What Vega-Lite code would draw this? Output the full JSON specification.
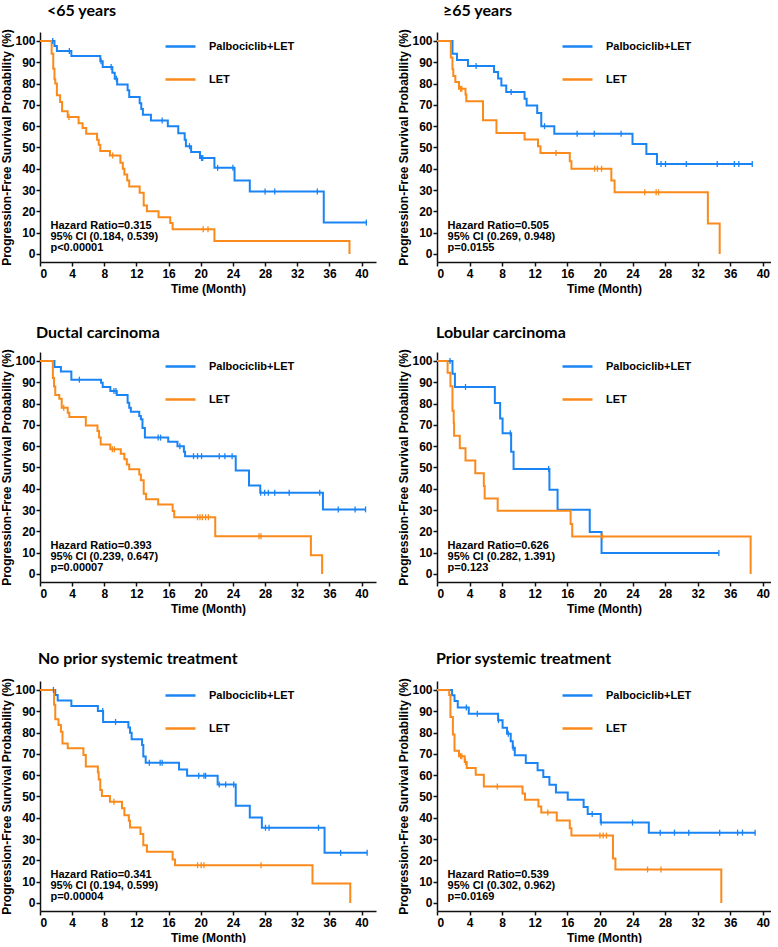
{
"$schema":"https://vega.github.io/schema/vega-lite/v6.json",
"padding":{"left":0,"top":2,"right":0,"bottom":0},
"background":"white",
"config":{
 "view":{"stroke":null},
 "font":"Liberation Sans",
 "axis":{"domainColor":"#111","domainWidth":1.5,"tickColor":"#111","tickWidth":1.5,"tickSize":4,"labelFont":"Liberation Sans","labelFontSize":12,"labelFontWeight":"bold","labelColor":"black","labelPadding":2,"labelOverlap":false,"titleFont":"Liberation Sans","titleFontSize":12,"titleFontWeight":"bold","titleColor":"black","grid":false},
 "axisY":{"titlePadding":1,"labelPadding":1},
 "axisX":{"titlePadding":4},
 "title":{"anchor":"start","frame":"group","font":"Lato","fontSize":16,"fontWeight":"bold","color":"black"}
},
"datasets":{
"km":[
{"p":"a","g":"Palbociclib+LET","t":0,"s":100},{"p":"a","g":"Palbociclib+LET","t":1.8,"s":97.6},{"p":"a","g":"Palbociclib+LET","t":2.1,"s":95.3},{"p":"a","g":"Palbociclib+LET","t":3.9,"s":92.9},{"p":"a","g":"Palbociclib+LET","t":7.5,"s":90.5},{"p":"a","g":"Palbociclib+LET","t":7.8,"s":87.8},{"p":"a","g":"Palbociclib+LET","t":9.0,"s":85.1},{"p":"a","g":"Palbociclib+LET","t":9.3,"s":82.3},{"p":"a","g":"Palbociclib+LET","t":9.6,"s":79.6},{"p":"a","g":"Palbociclib+LET","t":10.9,"s":76.8},{"p":"a","g":"Palbociclib+LET","t":11.1,"s":73.7},{"p":"a","g":"Palbociclib+LET","t":12.4,"s":70.8},{"p":"a","g":"Palbociclib+LET","t":12.6,"s":68},{"p":"a","g":"Palbociclib+LET","t":12.8,"s":65.4},{"p":"a","g":"Palbociclib+LET","t":13.8,"s":62.7},{"p":"a","g":"Palbociclib+LET","t":15.9,"s":59.9},{"p":"a","g":"Palbociclib+LET","t":17.2,"s":56.7},{"p":"a","g":"Palbociclib+LET","t":18.0,"s":53.6},{"p":"a","g":"Palbociclib+LET","t":18.15,"s":50.6},{"p":"a","g":"Palbociclib+LET","t":18.8,"s":47.8},{"p":"a","g":"Palbociclib+LET","t":19.9,"s":45},{"p":"a","g":"Palbociclib+LET","t":21.7,"s":40.4},{"p":"a","g":"Palbociclib+LET","t":24.2,"s":34.5},{"p":"a","g":"Palbociclib+LET","t":26.1,"s":29.3},{"p":"a","g":"Palbociclib+LET","t":35.3,"s":14.7},{"p":"a","g":"Palbociclib+LET","t":40.6,"s":14.7},
{"p":"a","g":"LET","t":0,"s":100},{"p":"a","g":"LET","t":1.45,"s":94},{"p":"a","g":"LET","t":1.65,"s":87},{"p":"a","g":"LET","t":1.8,"s":82},{"p":"a","g":"LET","t":1.9,"s":80},{"p":"a","g":"LET","t":2.1,"s":74.5},{"p":"a","g":"LET","t":2.5,"s":71.3},{"p":"a","g":"LET","t":2.75,"s":67},{"p":"a","g":"LET","t":3.45,"s":64.3},{"p":"a","g":"LET","t":4.8,"s":61.4},{"p":"a","g":"LET","t":5.3,"s":59.1},{"p":"a","g":"LET","t":5.75,"s":56.4},{"p":"a","g":"LET","t":7.1,"s":53.6},{"p":"a","g":"LET","t":7.3,"s":51.3},{"p":"a","g":"LET","t":7.5,"s":48.3},{"p":"a","g":"LET","t":8.7,"s":46.2},{"p":"a","g":"LET","t":10.0,"s":42.8},{"p":"a","g":"LET","t":10.3,"s":40},{"p":"a","g":"LET","t":10.5,"s":37.3},{"p":"a","g":"LET","t":10.85,"s":34.5},{"p":"a","g":"LET","t":11.1,"s":31.7},{"p":"a","g":"LET","t":12.4,"s":28.7},{"p":"a","g":"LET","t":12.9,"s":22.7},{"p":"a","g":"LET","t":13.3,"s":20},{"p":"a","g":"LET","t":14.75,"s":17.2},{"p":"a","g":"LET","t":16.2,"s":14.5},{"p":"a","g":"LET","t":16.5,"s":11.6},{"p":"a","g":"LET","t":21.7,"s":6.1},{"p":"a","g":"LET","t":38.5,"s":0},
{"p":"b","g":"Palbociclib+LET","t":0,"s":100},{"p":"b","g":"Palbociclib+LET","t":1.9,"s":94},{"p":"b","g":"Palbociclib+LET","t":2.45,"s":91},{"p":"b","g":"Palbociclib+LET","t":3.8,"s":88.2},{"p":"b","g":"Palbociclib+LET","t":7.0,"s":85.4},{"p":"b","g":"Palbociclib+LET","t":7.5,"s":82.4},{"p":"b","g":"Palbociclib+LET","t":7.9,"s":79.1},{"p":"b","g":"Palbociclib+LET","t":8.5,"s":76},{"p":"b","g":"Palbociclib+LET","t":10.75,"s":72.8},{"p":"b","g":"Palbociclib+LET","t":11.0,"s":69.7},{"p":"b","g":"Palbociclib+LET","t":12.3,"s":66.2},{"p":"b","g":"Palbociclib+LET","t":12.8,"s":60},{"p":"b","g":"Palbociclib+LET","t":14.4,"s":56.4},{"p":"b","g":"Palbociclib+LET","t":24.0,"s":51.6},{"p":"b","g":"Palbociclib+LET","t":25.7,"s":46.9},{"p":"b","g":"Palbociclib+LET","t":27.0,"s":42.2},{"p":"b","g":"Palbociclib+LET","t":38.7,"s":42.2},
{"p":"b","g":"LET","t":0,"s":100},{"p":"b","g":"LET","t":1.7,"s":92.2},{"p":"b","g":"LET","t":1.9,"s":86.7},{"p":"b","g":"LET","t":2.0,"s":83.5},{"p":"b","g":"LET","t":2.25,"s":80.7},{"p":"b","g":"LET","t":2.7,"s":77.5},{"p":"b","g":"LET","t":3.5,"s":74.9},{"p":"b","g":"LET","t":3.6,"s":71.7},{"p":"b","g":"LET","t":5.65,"s":62.8},{"p":"b","g":"LET","t":7.3,"s":56.8},{"p":"b","g":"LET","t":10.75,"s":53.7},{"p":"b","g":"LET","t":12.4,"s":50.5},{"p":"b","g":"LET","t":12.7,"s":47.4},{"p":"b","g":"LET","t":16.3,"s":43.5},{"p":"b","g":"LET","t":16.5,"s":40},{"p":"b","g":"LET","t":21.4,"s":34.5},{"p":"b","g":"LET","t":21.8,"s":28.9},{"p":"b","g":"LET","t":33.25,"s":14.3},{"p":"b","g":"LET","t":34.7,"s":0},
{"p":"c","g":"Palbociclib+LET","t":0,"s":100},{"p":"c","g":"Palbociclib+LET","t":1.8,"s":97.2},{"p":"c","g":"Palbociclib+LET","t":2.6,"s":95},{"p":"c","g":"Palbociclib+LET","t":3.9,"s":91.2},{"p":"c","g":"Palbociclib+LET","t":7.6,"s":89.8},{"p":"c","g":"Palbociclib+LET","t":7.8,"s":87.8},{"p":"c","g":"Palbociclib+LET","t":8.75,"s":85.9},{"p":"c","g":"Palbociclib+LET","t":9.55,"s":84},{"p":"c","g":"Palbociclib+LET","t":10.9,"s":80.4},{"p":"c","g":"Palbociclib+LET","t":11.1,"s":78},{"p":"c","g":"Palbociclib+LET","t":11.3,"s":76.2},{"p":"c","g":"Palbociclib+LET","t":12.35,"s":74.1},{"p":"c","g":"Palbociclib+LET","t":12.55,"s":72.6},{"p":"c","g":"Palbociclib+LET","t":12.75,"s":68.5},{"p":"c","g":"Palbociclib+LET","t":13.05,"s":64},{"p":"c","g":"Palbociclib+LET","t":15.95,"s":62},{"p":"c","g":"Palbociclib+LET","t":17.1,"s":59.9},{"p":"c","g":"Palbociclib+LET","t":17.9,"s":57.4},{"p":"c","g":"Palbociclib+LET","t":18.05,"s":55.3},{"p":"c","g":"Palbociclib+LET","t":24.35,"s":48.6},{"p":"c","g":"Palbociclib+LET","t":26.0,"s":41.5},{"p":"c","g":"Palbociclib+LET","t":27.4,"s":38.1},{"p":"c","g":"Palbociclib+LET","t":35.2,"s":30.3},{"p":"c","g":"Palbociclib+LET","t":40.5,"s":30.3},
{"p":"c","g":"LET","t":0,"s":100},{"p":"c","g":"LET","t":1.6,"s":92},{"p":"c","g":"LET","t":1.75,"s":88},{"p":"c","g":"LET","t":1.9,"s":84},{"p":"c","g":"LET","t":2.4,"s":82.3},{"p":"c","g":"LET","t":2.7,"s":78},{"p":"c","g":"LET","t":3.45,"s":75.7},{"p":"c","g":"LET","t":3.65,"s":73.7},{"p":"c","g":"LET","t":5.7,"s":69.7},{"p":"c","g":"LET","t":7.15,"s":67.1},{"p":"c","g":"LET","t":7.35,"s":64},{"p":"c","g":"LET","t":7.55,"s":60.8},{"p":"c","g":"LET","t":8.75,"s":58.5},{"p":"c","g":"LET","t":10.05,"s":56.4},{"p":"c","g":"LET","t":10.5,"s":53.8},{"p":"c","g":"LET","t":10.8,"s":51.4},{"p":"c","g":"LET","t":11.1,"s":49.1},{"p":"c","g":"LET","t":12.35,"s":46.7},{"p":"c","g":"LET","t":12.55,"s":44},{"p":"c","g":"LET","t":12.9,"s":37.6},{"p":"c","g":"LET","t":13.2,"s":35},{"p":"c","g":"LET","t":14.7,"s":32.6},{"p":"c","g":"LET","t":16.5,"s":29.5},{"p":"c","g":"LET","t":16.7,"s":26.6},{"p":"c","g":"LET","t":21.8,"s":17.7},{"p":"c","g":"LET","t":33.7,"s":8.8},{"p":"c","g":"LET","t":35.1,"s":0},
{"p":"d","g":"Palbociclib+LET","t":0,"s":100},{"p":"d","g":"Palbociclib+LET","t":1.9,"s":94},{"p":"d","g":"Palbociclib+LET","t":2.2,"s":87.8},{"p":"d","g":"Palbociclib+LET","t":7.1,"s":80.3},{"p":"d","g":"Palbociclib+LET","t":7.75,"s":73},{"p":"d","g":"Palbociclib+LET","t":8.05,"s":66},{"p":"d","g":"Palbociclib+LET","t":9.1,"s":57.4},{"p":"d","g":"Palbociclib+LET","t":9.4,"s":49.3},{"p":"d","g":"Palbociclib+LET","t":13.8,"s":39.5},{"p":"d","g":"Palbociclib+LET","t":14.8,"s":30.1},{"p":"d","g":"Palbociclib+LET","t":18.75,"s":19.7},{"p":"d","g":"Palbociclib+LET","t":20.2,"s":9.8},{"p":"d","g":"Palbociclib+LET","t":34.6,"s":9.8},
{"p":"d","g":"LET","t":0,"s":100},{"p":"d","g":"LET","t":1.3,"s":94.4},{"p":"d","g":"LET","t":1.65,"s":88.1},{"p":"d","g":"LET","t":1.9,"s":76.6},{"p":"d","g":"LET","t":2.05,"s":71},{"p":"d","g":"LET","t":2.1,"s":64.9},{"p":"d","g":"LET","t":2.8,"s":59},{"p":"d","g":"LET","t":3.5,"s":53.2},{"p":"d","g":"LET","t":4.7,"s":47.3},{"p":"d","g":"LET","t":5.75,"s":41.3},{"p":"d","g":"LET","t":5.85,"s":35.4},{"p":"d","g":"LET","t":7.45,"s":29.6},{"p":"d","g":"LET","t":16.4,"s":23.4},{"p":"d","g":"LET","t":16.6,"s":17.6},{"p":"d","g":"LET","t":38.5,"s":0},
{"p":"e","g":"Palbociclib+LET","t":0,"s":100},{"p":"e","g":"Palbociclib+LET","t":1.9,"s":97.6},{"p":"e","g":"Palbociclib+LET","t":2.2,"s":95},{"p":"e","g":"Palbociclib+LET","t":3.9,"s":92.5},{"p":"e","g":"Palbociclib+LET","t":7.2,"s":90.1},{"p":"e","g":"Palbociclib+LET","t":7.85,"s":85},{"p":"e","g":"Palbociclib+LET","t":11.0,"s":82.4},{"p":"e","g":"Palbociclib+LET","t":11.2,"s":79.9},{"p":"e","g":"Palbociclib+LET","t":11.4,"s":76.8},{"p":"e","g":"Palbociclib+LET","t":12.7,"s":74.1},{"p":"e","g":"Palbociclib+LET","t":12.85,"s":68.7},{"p":"e","g":"Palbociclib+LET","t":13.15,"s":65.8},{"p":"e","g":"Palbociclib+LET","t":17.3,"s":62.7},{"p":"e","g":"Palbociclib+LET","t":18.3,"s":59.7},{"p":"e","g":"Palbociclib+LET","t":22.1,"s":55.6},{"p":"e","g":"Palbociclib+LET","t":24.35,"s":45.6},{"p":"e","g":"Palbociclib+LET","t":26.1,"s":40.1},{"p":"e","g":"Palbociclib+LET","t":27.6,"s":35.3},{"p":"e","g":"Palbociclib+LET","t":35.4,"s":23.5},{"p":"e","g":"Palbociclib+LET","t":40.7,"s":23.5},
{"p":"e","g":"LET","t":0,"s":100},{"p":"e","g":"LET","t":1.75,"s":93},{"p":"e","g":"LET","t":1.9,"s":86.2},{"p":"e","g":"LET","t":2.3,"s":83.5},{"p":"e","g":"LET","t":2.6,"s":80.4},{"p":"e","g":"LET","t":2.8,"s":74.9},{"p":"e","g":"LET","t":3.45,"s":72.6},{"p":"e","g":"LET","t":5.4,"s":69.4},{"p":"e","g":"LET","t":5.7,"s":64},{"p":"e","g":"LET","t":7.2,"s":61.3},{"p":"e","g":"LET","t":7.3,"s":58},{"p":"e","g":"LET","t":7.5,"s":53},{"p":"e","g":"LET","t":7.7,"s":50.2},{"p":"e","g":"LET","t":8.7,"s":47.5},{"p":"e","g":"LET","t":10.2,"s":44.4},{"p":"e","g":"LET","t":10.5,"s":41.2},{"p":"e","g":"LET","t":11.05,"s":38.6},{"p":"e","g":"LET","t":11.2,"s":35.4},{"p":"e","g":"LET","t":12.5,"s":32.3},{"p":"e","g":"LET","t":12.85,"s":27.1},{"p":"e","g":"LET","t":13.3,"s":24},{"p":"e","g":"LET","t":16.5,"s":20.4},{"p":"e","g":"LET","t":16.8,"s":17.7},{"p":"e","g":"LET","t":33.9,"s":9.1},{"p":"e","g":"LET","t":38.6,"s":0},
{"p":"f","g":"Palbociclib+LET","t":0,"s":100},{"p":"f","g":"Palbociclib+LET","t":1.85,"s":97.5},{"p":"f","g":"Palbociclib+LET","t":2.15,"s":94.8},{"p":"f","g":"Palbociclib+LET","t":2.55,"s":91.7},{"p":"f","g":"Palbociclib+LET","t":3.9,"s":88.8},{"p":"f","g":"Palbociclib+LET","t":7.5,"s":85.8},{"p":"f","g":"Palbociclib+LET","t":8.05,"s":82.2},{"p":"f","g":"Palbociclib+LET","t":8.6,"s":79.4},{"p":"f","g":"Palbociclib+LET","t":9.05,"s":75.9},{"p":"f","g":"Palbociclib+LET","t":9.3,"s":72.8},{"p":"f","g":"Palbociclib+LET","t":9.55,"s":69.3},{"p":"f","g":"Palbociclib+LET","t":10.9,"s":65.7},{"p":"f","g":"Palbociclib+LET","t":12.35,"s":62.3},{"p":"f","g":"Palbociclib+LET","t":13.05,"s":59.1},{"p":"f","g":"Palbociclib+LET","t":13.8,"s":55.5},{"p":"f","g":"Palbociclib+LET","t":14.6,"s":51.9},{"p":"f","g":"Palbociclib+LET","t":16.05,"s":48.4},{"p":"f","g":"Palbociclib+LET","t":18.0,"s":45},{"p":"f","g":"Palbociclib+LET","t":18.5,"s":41.7},{"p":"f","g":"Palbociclib+LET","t":20.1,"s":37.7},{"p":"f","g":"Palbociclib+LET","t":26.0,"s":33},{"p":"f","g":"Palbociclib+LET","t":39.1,"s":33},
{"p":"f","g":"LET","t":0,"s":100},{"p":"f","g":"LET","t":1.5,"s":97.6},{"p":"f","g":"LET","t":1.65,"s":87.3},{"p":"f","g":"LET","t":1.95,"s":79.1},{"p":"f","g":"LET","t":2.15,"s":71.5},{"p":"f","g":"LET","t":2.7,"s":68.9},{"p":"f","g":"LET","t":3.4,"s":66.2},{"p":"f","g":"LET","t":3.65,"s":63.4},{"p":"f","g":"LET","t":4.75,"s":60.2},{"p":"f","g":"LET","t":5.75,"s":54.7},{"p":"f","g":"LET","t":10.5,"s":51.4},{"p":"f","g":"LET","t":10.8,"s":48.4},{"p":"f","g":"LET","t":12.45,"s":45.3},{"p":"f","g":"LET","t":12.8,"s":42.5},{"p":"f","g":"LET","t":14.7,"s":38.7},{"p":"f","g":"LET","t":16.3,"s":35.1},{"p":"f","g":"LET","t":16.5,"s":31.6},{"p":"f","g":"LET","t":21.6,"s":20.9},{"p":"f","g":"LET","t":21.9,"s":15.7},{"p":"f","g":"LET","t":34.9,"s":0}
],
"cz":[
{"p":"a","g":"Palbociclib+LET","t":1.58,"s":100},{"p":"a","g":"Palbociclib+LET","t":3.65,"s":95.3},{"p":"a","g":"Palbociclib+LET","t":7.6,"s":90.5},{"p":"a","g":"Palbociclib+LET","t":8.85,"s":87.8},{"p":"a","g":"Palbociclib+LET","t":9.5,"s":82.3},{"p":"a","g":"Palbociclib+LET","t":15.2,"s":62.7},{"p":"a","g":"Palbociclib+LET","t":18.6,"s":50.6},{"p":"a","g":"Palbociclib+LET","t":20.1,"s":45},{"p":"a","g":"Palbociclib+LET","t":20.25,"s":45},{"p":"a","g":"Palbociclib+LET","t":22.1,"s":40.4},{"p":"a","g":"Palbociclib+LET","t":24.0,"s":40.4},{"p":"a","g":"Palbociclib+LET","t":28.0,"s":29.3},{"p":"a","g":"Palbociclib+LET","t":29.2,"s":29.3},{"p":"a","g":"Palbociclib+LET","t":34.5,"s":29.3},{"p":"a","g":"Palbociclib+LET","t":40.6,"s":14.7},
{"p":"a","g":"LET","t":3.6,"s":64.3},{"p":"a","g":"LET","t":9.05,"s":46.2},{"p":"a","g":"LET","t":20.3,"s":11.6},{"p":"a","g":"LET","t":20.9,"s":11.6},
{"p":"b","g":"Palbociclib+LET","t":4.8,"s":88.2},{"p":"b","g":"Palbociclib+LET","t":9.1,"s":76},{"p":"b","g":"Palbociclib+LET","t":13.2,"s":60},{"p":"b","g":"Palbociclib+LET","t":17.2,"s":56.4},{"p":"b","g":"Palbociclib+LET","t":19.3,"s":56.4},{"p":"b","g":"Palbociclib+LET","t":22.6,"s":56.4},{"p":"b","g":"Palbociclib+LET","t":27.5,"s":42.2},{"p":"b","g":"Palbociclib+LET","t":28.05,"s":42.2},{"p":"b","g":"Palbociclib+LET","t":30.6,"s":42.2},{"p":"b","g":"Palbociclib+LET","t":34.4,"s":42.2},{"p":"b","g":"Palbociclib+LET","t":36.5,"s":42.2},{"p":"b","g":"Palbociclib+LET","t":37.05,"s":42.2},{"p":"b","g":"Palbociclib+LET","t":38.7,"s":42.2},
{"p":"b","g":"LET","t":2.9,"s":77.5},{"p":"b","g":"LET","t":3.05,"s":77.5},{"p":"b","g":"LET","t":14.6,"s":47.4},{"p":"b","g":"LET","t":19.35,"s":40},{"p":"b","g":"LET","t":19.7,"s":40},{"p":"b","g":"LET","t":20.2,"s":40},{"p":"b","g":"LET","t":25.5,"s":28.9},{"p":"b","g":"LET","t":26.9,"s":28.9},{"p":"b","g":"LET","t":27.2,"s":28.9},
{"p":"c","g":"Palbociclib+LET","t":4.9,"s":91.2},{"p":"c","g":"Palbociclib+LET","t":9.2,"s":85.9},{"p":"c","g":"Palbociclib+LET","t":9.45,"s":85.9},{"p":"c","g":"Palbociclib+LET","t":14.7,"s":64},{"p":"c","g":"Palbociclib+LET","t":15.0,"s":64},{"p":"c","g":"Palbociclib+LET","t":17.4,"s":59.9},{"p":"c","g":"Palbociclib+LET","t":19.1,"s":55.3},{"p":"c","g":"Palbociclib+LET","t":19.6,"s":55.3},{"p":"c","g":"Palbociclib+LET","t":20.1,"s":55.3},{"p":"c","g":"Palbociclib+LET","t":22.3,"s":55.3},{"p":"c","g":"Palbociclib+LET","t":23.0,"s":55.3},{"p":"c","g":"Palbociclib+LET","t":23.9,"s":55.3},{"p":"c","g":"Palbociclib+LET","t":27.45,"s":38.1},{"p":"c","g":"Palbociclib+LET","t":27.95,"s":38.1},{"p":"c","g":"Palbociclib+LET","t":28.4,"s":38.1},{"p":"c","g":"Palbociclib+LET","t":29.2,"s":38.1},{"p":"c","g":"Palbociclib+LET","t":31.0,"s":38.1},{"p":"c","g":"Palbociclib+LET","t":34.8,"s":38.1},{"p":"c","g":"Palbociclib+LET","t":37.1,"s":30.3},{"p":"c","g":"Palbociclib+LET","t":39.2,"s":30.3},{"p":"c","g":"Palbociclib+LET","t":40.5,"s":30.3},
{"p":"c","g":"LET","t":2.95,"s":78},{"p":"c","g":"LET","t":9.0,"s":58.5},{"p":"c","g":"LET","t":9.25,"s":58.5},{"p":"c","g":"LET","t":19.6,"s":26.6},{"p":"c","g":"LET","t":19.9,"s":26.6},{"p":"c","g":"LET","t":20.2,"s":26.6},{"p":"c","g":"LET","t":20.6,"s":26.6},{"p":"c","g":"LET","t":20.95,"s":26.6},{"p":"c","g":"LET","t":27.25,"s":17.7},{"p":"c","g":"LET","t":27.5,"s":17.7},
{"p":"d","g":"Palbociclib+LET","t":1.6,"s":100},{"p":"d","g":"Palbociclib+LET","t":3.5,"s":87.8},{"p":"d","g":"Palbociclib+LET","t":9.0,"s":66},{"p":"d","g":"Palbociclib+LET","t":13.7,"s":49.3},{"p":"d","g":"Palbociclib+LET","t":34.6,"s":9.8},
{"p":"d","g":"LET","t":20.3,"s":17.6},
{"p":"e","g":"Palbociclib+LET","t":1.67,"s":100},{"p":"e","g":"Palbociclib+LET","t":7.8,"s":90.1},{"p":"e","g":"Palbociclib+LET","t":9.4,"s":85},{"p":"e","g":"Palbociclib+LET","t":13.6,"s":65.8},{"p":"e","g":"Palbociclib+LET","t":14.95,"s":65.8},{"p":"e","g":"Palbociclib+LET","t":15.2,"s":65.8},{"p":"e","g":"Palbociclib+LET","t":19.75,"s":59.7},{"p":"e","g":"Palbociclib+LET","t":20.4,"s":59.7},{"p":"e","g":"Palbociclib+LET","t":20.6,"s":59.7},{"p":"e","g":"Palbociclib+LET","t":22.3,"s":55.6},{"p":"e","g":"Palbociclib+LET","t":23.1,"s":55.6},{"p":"e","g":"Palbociclib+LET","t":24.1,"s":55.6},{"p":"e","g":"Palbociclib+LET","t":28.05,"s":35.3},{"p":"e","g":"Palbociclib+LET","t":28.5,"s":35.3},{"p":"e","g":"Palbociclib+LET","t":34.65,"s":35.3},{"p":"e","g":"Palbociclib+LET","t":37.4,"s":23.5},{"p":"e","g":"Palbociclib+LET","t":40.7,"s":23.5},
{"p":"e","g":"LET","t":9.2,"s":47.5},{"p":"e","g":"LET","t":19.6,"s":17.7},{"p":"e","g":"LET","t":20.05,"s":17.7},{"p":"e","g":"LET","t":20.4,"s":17.7},{"p":"e","g":"LET","t":27.5,"s":17.7},
{"p":"f","g":"Palbociclib+LET","t":3.6,"s":91.7},{"p":"f","g":"Palbociclib+LET","t":4.95,"s":88.8},{"p":"f","g":"Palbociclib+LET","t":7.55,"s":85.8},{"p":"f","g":"Palbociclib+LET","t":8.75,"s":79.4},{"p":"f","g":"Palbociclib+LET","t":9.35,"s":72.8},{"p":"f","g":"Palbociclib+LET","t":19.05,"s":41.7},{"p":"f","g":"Palbociclib+LET","t":20.15,"s":37.7},{"p":"f","g":"Palbociclib+LET","t":24.0,"s":37.7},{"p":"f","g":"Palbociclib+LET","t":27.4,"s":33},{"p":"f","g":"Palbociclib+LET","t":29.15,"s":33},{"p":"f","g":"Palbociclib+LET","t":30.9,"s":33},{"p":"f","g":"Palbociclib+LET","t":34.7,"s":33},{"p":"f","g":"Palbociclib+LET","t":36.9,"s":33},{"p":"f","g":"Palbociclib+LET","t":37.5,"s":33},{"p":"f","g":"Palbociclib+LET","t":39.05,"s":33},
{"p":"f","g":"LET","t":2.9,"s":68.9},{"p":"f","g":"LET","t":3.05,"s":68.9},{"p":"f","g":"LET","t":3.5,"s":66.2},{"p":"f","g":"LET","t":7.4,"s":54.7},{"p":"f","g":"LET","t":13.6,"s":42.5},{"p":"f","g":"LET","t":20.0,"s":31.6},{"p":"f","g":"LET","t":20.4,"s":31.6},{"p":"f","g":"LET","t":20.8,"s":31.6},{"p":"f","g":"LET","t":25.85,"s":15.7},{"p":"f","g":"LET","t":27.5,"s":15.7}
],
"ann":[
{"p":"a","t":1.3,"s":13,"txt":"Hazard Ratio=0.315"},{"p":"a","t":1.3,"s":7.8,"txt":"95% CI (0.184, 0.539)"},{"p":"a","t":1.3,"s":2.6,"txt":"p<0.00001"},
{"p":"b","t":1.3,"s":13,"txt":"Hazard Ratio=0.505"},{"p":"b","t":1.3,"s":7.8,"txt":"95% CI (0.269, 0.948)"},{"p":"b","t":1.3,"s":2.6,"txt":"p=0.0155"},
{"p":"c","t":1.3,"s":13,"txt":"Hazard Ratio=0.393"},{"p":"c","t":1.3,"s":7.8,"txt":"95% CI (0.239, 0.647)"},{"p":"c","t":1.3,"s":2.6,"txt":"p=0.00007"},
{"p":"d","t":1.3,"s":13,"txt":"Hazard Ratio=0.626"},{"p":"d","t":1.3,"s":7.8,"txt":"95% CI (0.282, 1.391)"},{"p":"d","t":1.3,"s":2.6,"txt":"p=0.123"},
{"p":"e","t":1.3,"s":13,"txt":"Hazard Ratio=0.341"},{"p":"e","t":1.3,"s":7.8,"txt":"95% CI (0.194, 0.599)"},{"p":"e","t":1.3,"s":2.6,"txt":"p=0.00004"},
{"p":"f","t":1.3,"s":13,"txt":"Hazard Ratio=0.539"},{"p":"f","t":1.3,"s":7.8,"txt":"95% CI (0.302, 0.962)"},{"p":"f","t":1.3,"s":2.6,"txt":"p=0.0169"}
]
},
"spacing":36,
"resolve":{"scale":{"color":"independent","stroke":"independent"},"legend":{"color":"independent"}},
"vconcat":[
{"spacing":30,
 "resolve":{"scale":{"color":"independent","stroke":"independent"},"legend":{"color":"independent"}},
 "vconcat":[
 {"spacing":21,"resolve":{"scale":{"color":"independent","stroke":"independent"},"legend":{"color":"independent"}},
  "hconcat":[
  {"title":{"text":"<65 years","dx":7,"offset":10},"width":336,"height":230,
   "encoding":{"x":{"field":"t","type":"quantitative","scale":{"domain":[0,41.8],"nice":false,"zero":false},"axis":{"values":[0,4,8,12,16,20,24,28,32,36,40],"labelOverlap":false,"title":"Time (Month)"}},
      "y":{"field":"s","type":"quantitative","scale":{"domain":[-3.8,104.2],"nice":false,"zero":false},"axis":{"values":[0,10,20,30,40,50,60,70,80,90,100],"labelOverlap":false,"title":"Progression-Free Survival Probability (%)"}}},
   "layer":[
    {"data":{"name":"km"},"transform":[{"filter":"datum.p==='a'"}],"mark":{"type":"line","interpolate":"step-after","strokeWidth":2},
     "encoding":{"color":{"field":"g","type":"nominal","scale":{"domain":["Palbociclib+LET","LET"],"range":["#1a84f5","#f98a1b"]},"legend":{"orient":"none","legendX":124,"legendY":-2,"title":null,"symbolType":"stroke","symbolSize":900,"symbolStrokeWidth":2.5,"labelFont":"Liberation Sans","labelFontSize":11,"labelFontWeight":"bold","labelColor":"black","labelOffset":12,"rowPadding":11}}}},
    {"data":{"name":"cz"},"transform":[{"filter":"datum.p==='a'"}],"mark":{"type":"point","shape":"M0,-1V1","size":36,"strokeWidth":1.3,"filled":false,"opacity":1},
     "encoding":{"stroke":{"field":"g","type":"nominal","scale":{"domain":["Palbociclib+LET","LET"],"range":["#1a84f5","#f98a1b"]},"legend":null}}},
    {"data":{"name":"ann"},"transform":[{"filter":"datum.p==='a'"}],"mark":{"type":"text","align":"left","baseline":"middle","font":"Liberation Sans","fontWeight":"bold","fontSize":11,"color":"black"},
     "encoding":{"text":{"field":"txt"}}}
   ]},
  {"title":{"text":"≥65 years","dx":6,"offset":10},"width":334,"height":230,
   "encoding":{"x":{"field":"t","type":"quantitative","scale":{"domain":[0,41],"nice":false,"zero":false},"axis":{"values":[0,4,8,12,16,20,24,28,32,36,40],"labelOverlap":false,"title":"Time (Month)"}},
      "y":{"field":"s","type":"quantitative","scale":{"domain":[-3.8,104.2],"nice":false,"zero":false},"axis":{"values":[0,10,20,30,40,50,60,70,80,90,100],"labelOverlap":false,"title":"Progression-Free Survival Probability (%)"}}},
   "layer":[
    {"data":{"name":"km"},"transform":[{"filter":"datum.p==='b'"}],"mark":{"type":"line","interpolate":"step-after","strokeWidth":2},
     "encoding":{"color":{"field":"g","type":"nominal","scale":{"domain":["Palbociclib+LET","LET"],"range":["#1a84f5","#f98a1b"]},"legend":{"orient":"none","legendX":124,"legendY":-2,"title":null,"symbolType":"stroke","symbolSize":900,"symbolStrokeWidth":2.5,"labelFont":"Liberation Sans","labelFontSize":11,"labelFontWeight":"bold","labelColor":"black","labelOffset":12,"rowPadding":11}}}},
    {"data":{"name":"cz"},"transform":[{"filter":"datum.p==='b'"}],"mark":{"type":"point","shape":"M0,-1V1","size":36,"strokeWidth":1.3,"filled":false,"opacity":1},
     "encoding":{"stroke":{"field":"g","type":"nominal","scale":{"domain":["Palbociclib+LET","LET"],"range":["#1a84f5","#f98a1b"]},"legend":null}}},
    {"data":{"name":"ann"},"transform":[{"filter":"datum.p==='b'"}],"mark":{"type":"text","align":"left","baseline":"middle","font":"Liberation Sans","fontWeight":"bold","fontSize":11,"color":"black"},
     "encoding":{"text":{"field":"txt"}}}
   ]}
  ]},
 {"spacing":21,"resolve":{"scale":{"color":"independent","stroke":"independent"},"legend":{"color":"independent"}},
  "hconcat":[
  {"title":{"text":"Ductal carcinoma","dx":-4,"offset":8},"width":336,"height":230,
   "encoding":{"x":{"field":"t","type":"quantitative","scale":{"domain":[0,41.8],"nice":false,"zero":false},"axis":{"values":[0,4,8,12,16,20,24,28,32,36,40],"labelOverlap":false,"title":"Time (Month)"}},
      "y":{"field":"s","type":"quantitative","scale":{"domain":[-3.8,104.2],"nice":false,"zero":false},"axis":{"values":[0,10,20,30,40,50,60,70,80,90,100],"labelOverlap":false,"title":"Progression-Free Survival Probability (%)"}}},
   "layer":[
    {"data":{"name":"km"},"transform":[{"filter":"datum.p==='c'"}],"mark":{"type":"line","interpolate":"step-after","strokeWidth":2},
     "encoding":{"color":{"field":"g","type":"nominal","scale":{"domain":["Palbociclib+LET","LET"],"range":["#1a84f5","#f98a1b"]},"legend":{"orient":"none","legendX":124,"legendY":-2,"title":null,"symbolType":"stroke","symbolSize":900,"symbolStrokeWidth":2.5,"labelFont":"Liberation Sans","labelFontSize":11,"labelFontWeight":"bold","labelColor":"black","labelOffset":12,"rowPadding":11}}}},
    {"data":{"name":"cz"},"transform":[{"filter":"datum.p==='c'"}],"mark":{"type":"point","shape":"M0,-1V1","size":36,"strokeWidth":1.3,"filled":false,"opacity":1},
     "encoding":{"stroke":{"field":"g","type":"nominal","scale":{"domain":["Palbociclib+LET","LET"],"range":["#1a84f5","#f98a1b"]},"legend":null}}},
    {"data":{"name":"ann"},"transform":[{"filter":"datum.p==='c'"}],"mark":{"type":"text","align":"left","baseline":"middle","font":"Liberation Sans","fontWeight":"bold","fontSize":11,"color":"black"},
     "encoding":{"text":{"field":"txt"}}}
   ]},
  {"title":{"text":"Lobular carcinoma","dx":-1,"offset":8},"width":334,"height":230,
   "encoding":{"x":{"field":"t","type":"quantitative","scale":{"domain":[0,41],"nice":false,"zero":false},"axis":{"values":[0,4,8,12,16,20,24,28,32,36,40],"labelOverlap":false,"title":"Time (Month)"}},
      "y":{"field":"s","type":"quantitative","scale":{"domain":[-3.8,104.2],"nice":false,"zero":false},"axis":{"values":[0,10,20,30,40,50,60,70,80,90,100],"labelOverlap":false,"title":"Progression-Free Survival Probability (%)"}}},
   "layer":[
    {"data":{"name":"km"},"transform":[{"filter":"datum.p==='d'"}],"mark":{"type":"line","interpolate":"step-after","strokeWidth":2},
     "encoding":{"color":{"field":"g","type":"nominal","scale":{"domain":["Palbociclib+LET","LET"],"range":["#1a84f5","#f98a1b"]},"legend":{"orient":"none","legendX":124,"legendY":-2,"title":null,"symbolType":"stroke","symbolSize":900,"symbolStrokeWidth":2.5,"labelFont":"Liberation Sans","labelFontSize":11,"labelFontWeight":"bold","labelColor":"black","labelOffset":12,"rowPadding":11}}}},
    {"data":{"name":"cz"},"transform":[{"filter":"datum.p==='d'"}],"mark":{"type":"point","shape":"M0,-1V1","size":36,"strokeWidth":1.3,"filled":false,"opacity":1},
     "encoding":{"stroke":{"field":"g","type":"nominal","scale":{"domain":["Palbociclib+LET","LET"],"range":["#1a84f5","#f98a1b"]},"legend":null}}},
    {"data":{"name":"ann"},"transform":[{"filter":"datum.p==='d'"}],"mark":{"type":"text","align":"left","baseline":"middle","font":"Liberation Sans","fontWeight":"bold","fontSize":11,"color":"black"},
     "encoding":{"text":{"field":"txt"}}}
   ]}
  ]}
 ]},
 {"spacing":21,"resolve":{"scale":{"color":"independent","stroke":"independent"},"legend":{"color":"independent"}},
  "hconcat":[
  {"title":{"text":"No prior systemic treatment","dx":-2,"offset":11},"width":336,"height":230,
   "encoding":{"x":{"field":"t","type":"quantitative","scale":{"domain":[0,41.8],"nice":false,"zero":false},"axis":{"values":[0,4,8,12,16,20,24,28,32,36,40],"labelOverlap":false,"title":"Time (Month)"}},
      "y":{"field":"s","type":"quantitative","scale":{"domain":[-3.8,104.2],"nice":false,"zero":false},"axis":{"values":[0,10,20,30,40,50,60,70,80,90,100],"labelOverlap":false,"title":"Progression-Free Survival Probability (%)"}}},
   "layer":[
    {"data":{"name":"km"},"transform":[{"filter":"datum.p==='e'"}],"mark":{"type":"line","interpolate":"step-after","strokeWidth":2},
     "encoding":{"color":{"field":"g","type":"nominal","scale":{"domain":["Palbociclib+LET","LET"],"range":["#1a84f5","#f98a1b"]},"legend":{"orient":"none","legendX":124,"legendY":-2,"title":null,"symbolType":"stroke","symbolSize":900,"symbolStrokeWidth":2.5,"labelFont":"Liberation Sans","labelFontSize":11,"labelFontWeight":"bold","labelColor":"black","labelOffset":12,"rowPadding":11}}}},
    {"data":{"name":"cz"},"transform":[{"filter":"datum.p==='e'"}],"mark":{"type":"point","shape":"M0,-1V1","size":36,"strokeWidth":1.3,"filled":false,"opacity":1},
     "encoding":{"stroke":{"field":"g","type":"nominal","scale":{"domain":["Palbociclib+LET","LET"],"range":["#1a84f5","#f98a1b"]},"legend":null}}},
    {"data":{"name":"ann"},"transform":[{"filter":"datum.p==='e'"}],"mark":{"type":"text","align":"left","baseline":"middle","font":"Liberation Sans","fontWeight":"bold","fontSize":11,"color":"black"},
     "encoding":{"text":{"field":"txt"}}}
   ]},
  {"title":{"text":"Prior systemic treatment","dx":-1,"offset":11},"width":334,"height":230,
   "encoding":{"x":{"field":"t","type":"quantitative","scale":{"domain":[0,41],"nice":false,"zero":false},"axis":{"values":[0,4,8,12,16,20,24,28,32,36,40],"labelOverlap":false,"title":"Time (Month)"}},
      "y":{"field":"s","type":"quantitative","scale":{"domain":[-3.8,104.2],"nice":false,"zero":false},"axis":{"values":[0,10,20,30,40,50,60,70,80,90,100],"labelOverlap":false,"title":"Progression-Free Survival Probability (%)"}}},
   "layer":[
    {"data":{"name":"km"},"transform":[{"filter":"datum.p==='f'"}],"mark":{"type":"line","interpolate":"step-after","strokeWidth":2},
     "encoding":{"color":{"field":"g","type":"nominal","scale":{"domain":["Palbociclib+LET","LET"],"range":["#1a84f5","#f98a1b"]},"legend":{"orient":"none","legendX":124,"legendY":-2,"title":null,"symbolType":"stroke","symbolSize":900,"symbolStrokeWidth":2.5,"labelFont":"Liberation Sans","labelFontSize":11,"labelFontWeight":"bold","labelColor":"black","labelOffset":12,"rowPadding":11}}}},
    {"data":{"name":"cz"},"transform":[{"filter":"datum.p==='f'"}],"mark":{"type":"point","shape":"M0,-1V1","size":36,"strokeWidth":1.3,"filled":false,"opacity":1},
     "encoding":{"stroke":{"field":"g","type":"nominal","scale":{"domain":["Palbociclib+LET","LET"],"range":["#1a84f5","#f98a1b"]},"legend":null}}},
    {"data":{"name":"ann"},"transform":[{"filter":"datum.p==='f'"}],"mark":{"type":"text","align":"left","baseline":"middle","font":"Liberation Sans","fontWeight":"bold","fontSize":11,"color":"black"},
     "encoding":{"text":{"field":"txt"}}}
   ]}
  ]}
]
}
